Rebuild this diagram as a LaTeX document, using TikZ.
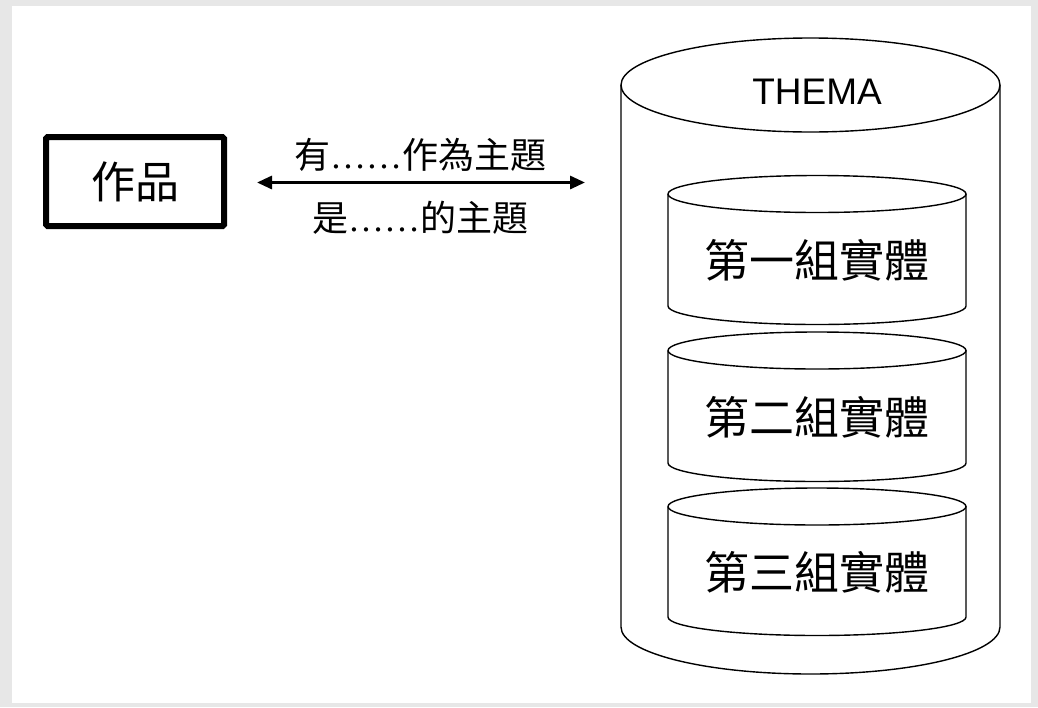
\documentclass[tikz,border=0pt]{standalone}
\usepackage{fontspec}
\setmainfont{Liberation Serif}
\newfontfamily\cjk{Noto Sans CJK TC}
\newfontfamily\arialf{Liberation Sans}
\usetikzlibrary{arrows.meta}
\definecolor{bgcol}{RGB}{231,231,231}
\tikzset{
  thinline/.style={line width=1.4pt, black},
  rellabel/.style={inner sep=0pt, font=\cjk\fontsize{36}{40}\selectfont},
  grouplabel/.style={inner sep=0pt, font=\cjk\fontsize{45}{49}\selectfont},
  workbox/.style={draw, line width=6pt, minimum width=178pt, minimum height=89pt, inner sep=0pt, rounded corners=1.5pt, font=\cjk\fontsize{44}{48}\selectfont},
  relarrow/.style={line width=3pt, {Triangle[length=15pt,width=13pt]}-{Triangle[length=15pt,width=13pt]}}
}
\newcommand{\dotsx}{{\rmfamily\fontsize{36}{38}\selectfont ……}}
\begin{document}
\begin{tikzpicture}[x=1pt,y=-1pt]
\useasboundingbox (0,0) rectangle (1038,707);
\fill[bgcol] (0,0) rectangle (1038,707);
\fill[white] (12,6) rectangle (1031,703);

% work box
\node[workbox] (work) at (135,181.5) {作品};

% relation arrow
\coordinate (al) at (257,182.5);
\coordinate (ar) at (585,182.5);
\draw[relarrow] (al) -- (ar);
\node[rellabel] (rtop) at (420,155) {有\dotsx 作為主題};
\node[rellabel] (rbot) at (420,218) {是\dotsx 的主題};

% outer cylinder
\draw[thinline] (621,85) -- (621,627) arc[start angle=180,end angle=0,x radius=189.5,y radius=47] -- (1000,85);
\draw[thinline] (810.5,85) ellipse[x radius=189.5,y radius=47];
\node[inner sep=0pt, font=\arialf\fontsize{37}{40}\selectfont] (thema) at (817,92) {THEMA};

% inner cylinders
\foreach \t/\b/\lab/\nm in {194/306/第一組實體/g1, 350.5/463/第二組實體/g2, 506.5/617/第三組實體/g3}{
  \draw[thinline] (668,\t) -- (668,\b) arc[start angle=180,end angle=0,x radius=149,y radius=18.5] -- (966,\t);
  \draw[thinline] (817,\t) ellipse[x radius=149,y radius=18.5];
  \node[grouplabel] (\nm) at (817,{(\t+18.5+\b)/2+1}) {\lab};
}
\end{tikzpicture}
\end{document}
